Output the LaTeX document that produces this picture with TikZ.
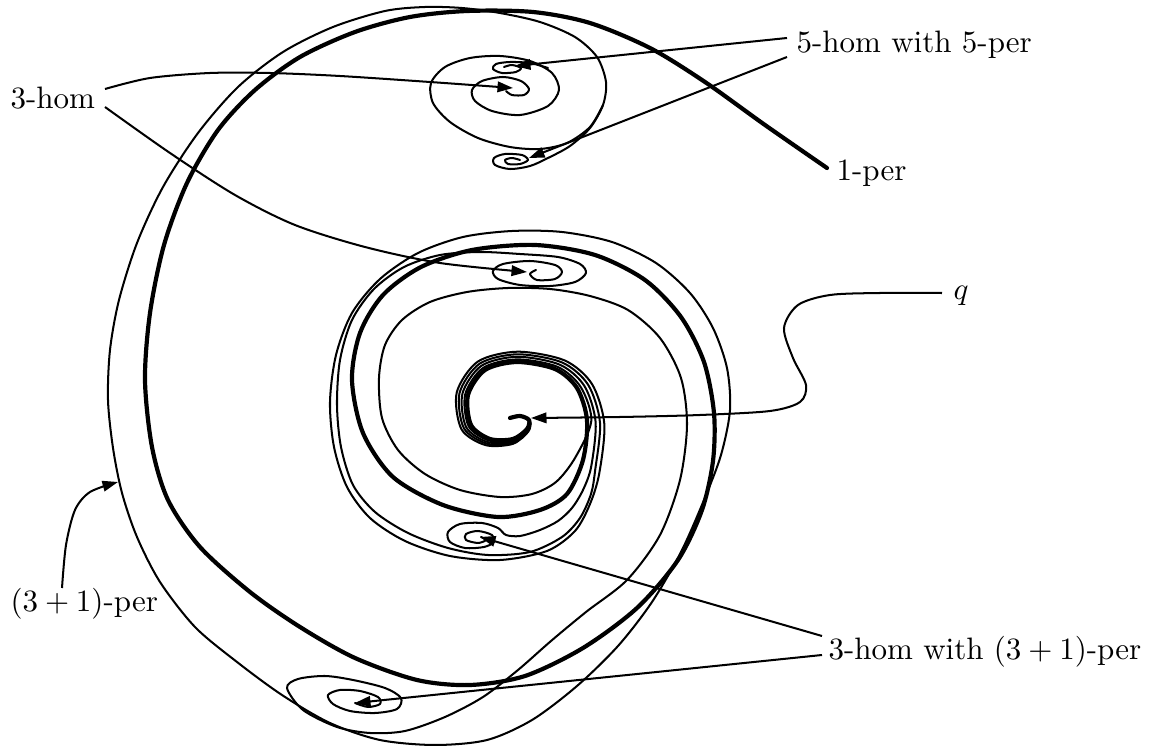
\documentclass[tikz,border=0pt]{standalone}
\usetikzlibrary{arrows.meta}
\begin{document}
\begin{tikzpicture}[x=0.3226pt,y=-0.3226pt,
  thincurve/.style={line width=0.65pt,line join=round,line cap=round},
  thickcurve/.style={line width=1.35pt,line join=round,line cap=round},
  pointer/.style={line width=0.65pt,-{Triangle[length=5pt,width=3.4pt]}},
  lab/.style={inner sep=0pt,anchor=west,font=\fontsize{10}{12}\selectfont}]
\useasboundingbox (0,0) rectangle (1157,746);

% labels
\node[lab] (l3hom) at (10,98) {3-hom};
\node[lab] (l5hom) at (796,45) {5-hom with 5-per};
\node[lab] (l1per) at (836,173) {1-per};
\node[lab] (lq) at (953,296) {$q$};
\node[lab] (l31per) at (10,604) {$(3+1)$-per};
\node[lab] (l3homw) at (828,652) {3-hom with $(3+1)$-per};

% connector ends
\coordinate (s3a) at (105,89);   \coordinate (t3a) at (513,88);
\coordinate (s3b) at (105,107);  \coordinate (t3b) at (527,272);
\coordinate (s5a) at (787,38);   \coordinate (t5a) at (515,66);
\coordinate (s5b) at (787,57);   \coordinate (t5b) at (529,158);
\coordinate (sqq) at (942,293);  \coordinate (tqq) at (531,418);
\coordinate (swa) at (822,636);  \coordinate (twa) at (480,537);
\coordinate (swb) at (822,655);  \coordinate (twb) at (355,703);
\coordinate (s31) at (62,588);   \coordinate (t31) at (118,482);
\coordinate (e1per) at (827,168);

% outer thin curve
\draw[thincurve] plot[smooth] coordinates {
(520,160) (512,158) (505,160) (508,164) (520,164) (528,160) (522,155) (505,154) (494,158) (495,165) (510,169) (530,166) (548,158) (570,146) (590,128) (603,105) (606,82) (597,57) (575,37) (540,22) (500,13) (462,8) (425,7) (385,11) (333,27) (283,52) (238,87) (198,133) (163,187) (137,243) (119,300) (110,350) (108,400) (113,448) (122,493) (137,537) (160,582) (195,627) (237,662) (282,695) (330,723) (380,740) (435,745) (487,740) (532,720) (577,686) (618,646) (652,602) (681,552) (704,500) (721,455) (730,410) (727,368) (713,328) (690,293) (656,263) (612,242) (562,232) (512,231) (463,237) (418,253) (380,279) (352,313) (336,355) (330,402) (334,447) (347,487) (370,518) (405,541) (450,556) (500,560) (547,551) (575,531) (590,504) (599.3,473.2) (604.3,423.6) (591.9,383.9) (564.6,360.4) (517.5,351.7) (477.8,361.6) (456.7,392.6) (461.5,429.3) (485.5,445.1) (512.7,443.9) (528.3,431.6) (530,421.1) (520.2,416.4) (510,418)};

% top spiral (3-hom)
\draw[thincurve] plot[smooth] coordinates {
(603,105) (590,127) (567,143) (540,149) (510,147) (478,138) (450,122) (433,103) (431,83) (445,67) (470,58) (500,56) (530,61) (552,73) (559,90) (548,106) (520,115) (492,111) (475,101) (472,90) (482,81) (503,77) (521,81) (529,89) (524,95) (512,95) (506,91)};

% top small spiral (5-hom)
\draw[thincurve] plot[smooth] coordinates {
(548,68) (530,63) (510,62) (496,64) (493,69) (502,73) (516,72) (521,68) (512,65) (504,67)};

% second ring ending in the small 3-hom spiral
\draw[thincurve] plot[smooth] coordinates {
(536,270) (530,274) (537,280) (555,279) (562,272) (555,265) (530,261) (503,264) (493,271) (498,279) (520,285) (550,286) (575,282) (586,273) (580,264) (558,257) (520,254) (480,252) (440,255) (404,267) (374,289) (352,320) (340,360) (337,405) (341,447) (353,485) (375,512) (408,533) (448,548) (488,555) (530,552) (562,537) (580,518) (591,494) (595.2,469.9) (600,422.7) (588.2,384.9) (562.2,362.5) (517.4,354.3) (479.6,363.7) (459.5,393.2) (463.9,428.2) (486.6,443.6) (512.8,442.7) (528,430.9) (529.8,420.8) (520.1,416.3) (510,418)};

% small spiral below the centre
\draw[thincurve] plot[smooth] coordinates {
(481,537) (486,540) (478,543) (466,540) (466,534) (478,531) (492,535) (494,542) (484,547) (465,548) (450,542) (448,532) (460,524) (482,523) (498,528) (506,535) (520,536) (540,530) (558,521) (572,508) (583,490) (591.2,466.6) (595.6,421.8) (584.4,386) (559.8,364.7) (517.2,356.8) (481.4,365.8) (462.4,393.8) (466.2,427.2) (487.7,442.1) (512.9,441.4) (527.6,430.3) (529.5,420.5) (520.1,416.2) (510,418)};

% inner arm from the bottom spiral
\draw[thincurve] plot[smooth] coordinates {
(355,703) (368,707) (380,704) (378,697) (360,691) (340,690) (328,695) (333,704) (350,711) (375,713) (397,709) (401,698) (385,688) (353,680) (325,676) (298,679) (287,688) (303,710) (337,727) (370,733) (405,731) (445,717) (483,697) (518,670) (551,641) (586,612) (627,580) (660,535) (680,480) (687,425) (681,378) (660,338) (628,310) (590,296) (550,289) (508,288) (467,292) (430,302) (402,320) (385,345) (379,378) (382,418) (398,450) (425,474) (460,490) (500,497) (532,494) (556,482) (575,458) (591.3,420.9) (580.7,387) (557.4,366.8) (517.1,359.4) (483.2,367.9) (465.2,394.4) (468.6,426.1) (488.9,440.5) (512.9,440.2) (527.3,429.6) (529.3,420.3) (520,416.1) (510,418)};

% thick curve (1-per)
\draw[thickcurve] plot[smooth] coordinates {
(e1per) (765,125) (705,82) (650,48) (590,23) (533,12) (467,11) (410,17) (355,32) (300,57) (255,90) (218,130) (187,183) (164,245) (150,313) (145,380) (152,447) (168,500) (200,547) (250,592) (300,627) (355,658) (417,680) (470,685) (525,676) (583,648) (637,608) (678,560) (702,510) (713,461) (714,413) (704,362) (681,317) (645,280) (595,255) (535,245) (472,250) (421,267) (383,295) (360,333) (352,380) (363,433) (393,477) (443,505) (498,517) (540,510) (567,494) (583,460) (587,420) (577,388) (555,369) (517,362) (485,370) (468,395) (471,425) (490,439) (513,439) (527,429) (529,420) (520,416) (510,418)};

% pointers
\draw[pointer] plot[smooth] coordinates {(s3a) (150,78) (210,73) (270,73) (340,76) (430,82) (t3a)};
\draw[pointer] plot[smooth] coordinates {(s3b) (170,153) (235,195) (295,225) (365,247) (440,263) (t3b)};
\draw[pointer] (s5a) -- (t5a);
\draw[pointer] (s5b) -- (t5b);
\draw[pointer] plot[smooth] coordinates {(sqq) (880,293) (830,295) (798,305) (784,328) (793,358) (806,385) (800,402) (770,411) (700,415) (620,417) (tqq)};
\draw[pointer] (swa) -- (twa);
\draw[pointer] (swb) -- (twb);
\draw[pointer] plot[smooth] coordinates {(s31) (66,545) (75,510) (90,492) (t31)};
\end{tikzpicture}
\end{document}
